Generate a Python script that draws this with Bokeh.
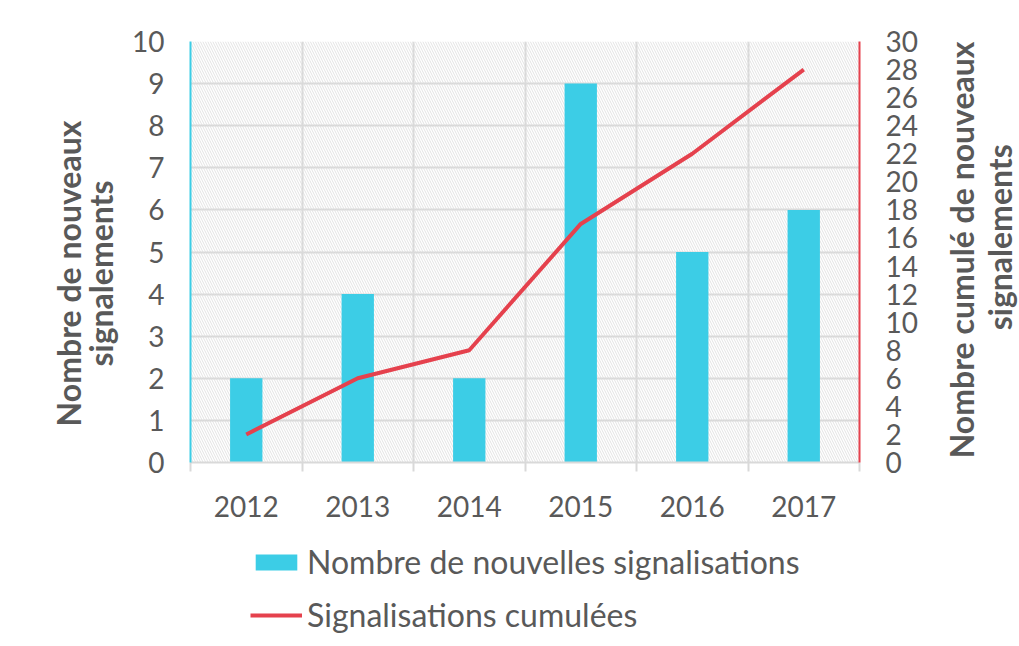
import math
from bokeh.plotting import figure
from bokeh.layouts import column, row
from bokeh.models import (Range1d, LinearAxis, FixedTicker, BoxAnnotation, Legend, LegendItem,
                          ColumnDataSource)
from bokeh.core.properties import value
from bokeh.embed import file_html
from bokeh.resources import INLINE

years = ["2012", "2013", "2014", "2015", "2016", "2017"]
new_counts = [2, 4, 2, 9, 5, 6]
cumulative = [2, 6, 8, 17, 22, 28]
left_ticks = list(range(0, 11))
right_ticks = list(range(0, 31, 2))
left_title_lines = ["Nombre de nouveaux", "signalements"]
right_title_lines = ["Nombre cumulé de nouveaux", "signalements"]
legend_labels = ["Nombre de nouvelles signalisations", "Signalisations cumulées"]

BAR = "#3ccde6"
RED = "#e5414d"
TXT = "#595959"
GRID = "#d9d9d9"
FONT = "Lato"

LEFT_W, RIGHT_W = 120, 84
TOP, BOTTOM = 41, 68
H_MAIN, H_LEG = 530, 116

xs = list(range(len(years)))
src = ColumnDataSource(dict(x=xs, new=new_counts, cum=cumulative))

p = figure(width=1019 - LEFT_W - RIGHT_W, height=H_MAIN, output_backend="svg", toolbar_location=None,
           x_range=Range1d(-0.5, len(years) - 0.5), y_range=Range1d(0, 10),
           min_border_left=190 - LEFT_W, min_border_right=160 - RIGHT_W,
           min_border_top=TOP, min_border_bottom=BOTTOM)
p.outline_line_color = None
p.background_fill_color = "white"
p.border_fill_color = "white"

# hatched plot area
p.add_layout(BoxAnnotation(fill_color=None, line_color=None, hatch_pattern="left_diagonal_line",
                           hatch_color="#dcdcdc", hatch_scale=5, hatch_weight=0.8, level="underlay"))

p.extra_y_ranges = {"cum": Range1d(0, 30)}

bars = p.vbar(x="x", top="new", width=0.29, source=src, fill_color=BAR, line_color=None)
line = p.line(x="x", y="cum", source=src, y_range_name="cum", line_color=RED, line_width=4)

# x axis
xax = p.xaxis[0]
xax.ticker = FixedTicker(ticks=xs, minor_ticks=[i - 0.5 for i in range(len(years) + 1)])
xax.major_label_overrides = {i: y for i, y in enumerate(years)}
xax.major_tick_out = 0
xax.major_tick_in = 0
xax.minor_tick_out = 9
xax.minor_tick_in = 0
xax.minor_tick_line_color = GRID
xax.minor_tick_line_width = 2
xax.axis_line_color = GRID
xax.axis_line_width = 2
xax.major_label_text_font = FONT
xax.major_label_text_font_size = "28px"
xax.major_label_text_color = TXT
xax.major_label_standoff = 24

p.xgrid.grid_line_color = None
p.xgrid.minor_grid_line_color = GRID
p.xgrid.minor_grid_line_width = 2

# left axis
yax = p.yaxis[0]
yax.ticker = FixedTicker(ticks=left_ticks)
yax.axis_line_color = BAR
yax.axis_line_width = 2
yax.major_tick_line_color = None
yax.minor_tick_line_color = None
yax.major_tick_out = 0
yax.major_label_text_font = FONT
yax.major_label_text_font_size = "28px"
yax.major_label_text_color = TXT
yax.major_label_standoff = 26

p.ygrid.grid_line_color = GRID
p.ygrid.grid_line_width = 2

# right axis with tick labels
rax = LinearAxis(y_range_name="cum", ticker=FixedTicker(ticks=right_ticks))
rax.axis_line_color = RED
rax.axis_line_width = 2
rax.major_tick_line_color = None
rax.minor_tick_line_color = None
rax.major_tick_out = 0
rax.major_tick_in = 0
rax.minor_tick_out = 0
rax.minor_tick_in = 0
rax.major_label_text_font = FONT
rax.major_label_text_font_size = "28px"
rax.major_label_text_color = TXT
rax.major_label_standoff = 26
p.add_layout(rax, "right")


def title_fig(width, lines, xpos, ypos):
    f = figure(width=width, height=H_MAIN, output_backend="svg", toolbar_location=None,
               x_range=Range1d(0, width), y_range=Range1d(0, 10),
               x_axis_type=None, y_axis_type=None,
               min_border_left=0, min_border_right=0, min_border_top=TOP, min_border_bottom=BOTTOM)
    f.outline_line_color = None
    f.grid.grid_line_color = None
    f.background_fill_color = "white"
    f.border_fill_color = "white"
    f.text(x=xpos, y=ypos, text=lines, angle=math.pi / 2, text_align="center",
           text_baseline="middle", text_font=value(FONT), text_font_style="bold",
           text_font_size="32px", text_color=TXT)
    return f


# vertical titles, reading upwards (x in px inside the side strip, y on the 0-10 scale)
lt = title_fig(LEFT_W, left_title_lines, [68, 100], [4.49, 4.49])
rt = title_fig(RIGHT_W, right_title_lines, [26, 64], [5.05, 5.35])

# legend figure below
lf = figure(width=1019, height=H_LEG, output_backend="svg", toolbar_location=None,
            x_range=Range1d(0, 1), y_range=Range1d(0, 1), x_axis_type=None, y_axis_type=None,
            min_border_left=190, min_border_right=160, min_border_top=0, min_border_bottom=0)
lf.outline_line_color = None
lf.grid.grid_line_color = None
lsrc = ColumnDataSource(dict(x=[-10, -9], top=[-10, -9], y=[-10, -9]))
lbar = lf.vbar(x="x", top="top", width=0.29, source=lsrc, fill_color=BAR, line_color=None)
lline = lf.line(x="x", y="y", source=lsrc, line_color=RED, line_width=4)

legend = Legend(items=[LegendItem(label=legend_labels[0], renderers=[lbar]),
                       LegendItem(label=legend_labels[1], renderers=[lline])],
                location=(60, 12), orientation="vertical",
                glyph_width=52, glyph_height=20, label_standoff=5, spacing=14,
                label_text_font=FONT, label_text_font_size="32px", label_text_color=TXT,
                border_line_color=None, background_fill_alpha=0, padding=0, margin=0)
lf.add_layout(legend, "center")

layout = column(row(lt, p, rt, spacing=0), lf, spacing=0)
open("out.html", "w").write(file_html(layout, INLINE))
